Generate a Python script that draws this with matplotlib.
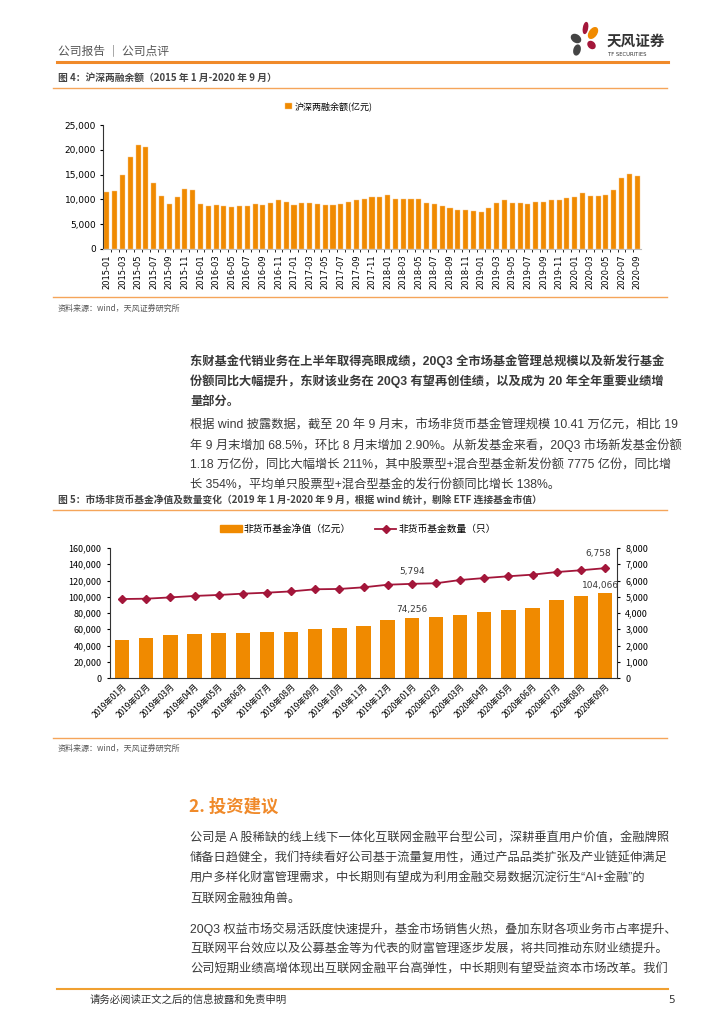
import numpy as np
import matplotlib
matplotlib.use("Agg")
import matplotlib.pyplot as plt
from matplotlib.patches import Ellipse, Rectangle
from matplotlib.lines import Line2D
from matplotlib.ticker import FuncFormatter, MultipleLocator

plt.rcParams['font.family'] = ['Noto Sans CJK SC', 'DejaVu Sans']
plt.rcParams['axes.unicode_minus'] = False
BODY = ['Liberation Sans', 'Noto Sans CJK SC']

# ---- data: chart 1, margin balance (亿元), 2015-01 .. 2020-09 ----
months_1 = [f"{y}-{m:02d}" for y in range(2015, 2021) for m in range(1, 13)][:69]
margin = [11500, 11700, 15000, 18500, 20900, 20600, 13400, 10600, 9100, 10500, 12100, 11900,
          9100, 8700, 8900, 8700, 8500, 8700, 8700, 9100, 8900, 9300, 9900, 9500,
          8900, 9300, 9300, 9100, 8900, 8900, 9100, 9500, 9900, 10100, 10500, 10500,
          10900, 10100, 10100, 10100, 10100, 9300, 9100, 8700, 8300, 7900, 7900, 7700,
          7500, 8300, 9300, 9900, 9300, 9300, 9100, 9500, 9500, 9900, 9900, 10300,
          10500, 11300, 10700, 10700, 10900, 11800, 14400, 15050, 14700]

# ---- data: chart 2, non-money funds ----
months_2 = [f"{y}年{m:02d}月" for y in (2019, 2020) for m in range(1, 13)][:21]
nav = [47200, 48800, 53300, 54600, 55000, 55000, 56600, 56600, 60700, 61900, 64400, 71800,
       74256, 75500, 77500, 81600, 84100, 86600, 96400, 101300, 104066]
fund_cnt = [4860, 4880, 4960, 5050, 5110, 5190, 5250, 5330, 5460, 5480, 5580, 5740,
            5794, 5830, 6030, 6150, 6260, 6360, 6520, 6630, 6758]

ORANGE = '#F08A00'
CRIMSON = '#A3163A'
TXT = '#3a3a3a'

W, H = 724, 1024
fig = plt.figure(figsize=(W / 100, H / 100), dpi=100)
fig.patch.set_facecolor('white')


def box(l, t, r, b):
    return [l / W, 1 - b / H, (r - l) / W, (b - t) / H]


comma = FuncFormatter(lambda v, p: f"{int(v):,}")

# ---- chart 1 ----
ax1 = fig.add_axes(box(103, 125, 641, 249))
x1 = np.arange(len(margin))
ax1.bar(x1, margin, width=0.65, color=ORANGE, edgecolor='#F8C890', linewidth=0.3,
        label='沪深两融余额(亿元)')
ax1.set_xlim(-0.5, len(margin) - 0.5)
ax1.set_ylim(0, 25000)
ax1.yaxis.set_major_locator(MultipleLocator(5000))
ax1.yaxis.set_major_formatter(comma)
ax1.set_xticks(x1[::2])
ax1.set_xticklabels(months_1[::2], rotation=90, fontsize=6, family='DejaVu Sans')
ax1.set_xticks(x1[:-1] + 0.5, minor=True)
ax1.tick_params(axis='x', which='major', length=0, pad=4)
ax1.tick_params(axis='x', which='minor', length=2, color='black')
ax1.tick_params(axis='y', labelsize=6.5, length=2, pad=3)
for lab in ax1.get_yticklabels():
    lab.set_family('DejaVu Sans')
for s in ('top', 'right'):
    ax1.spines[s].set_visible(False)
ax1.spines['bottom'].set_color('#bbbbbb')
ax1.spines['left'].set_color('#333333')
ax1.legend(loc='lower center', bbox_to_anchor=(0.42, 1.08), frameon=False, fontsize=6.5,
           handlelength=0.7, handleheight=0.7, handletextpad=0.3, borderaxespad=0)

# ---- chart 2 ----
ax2 = fig.add_axes(box(110, 548, 617, 678))
x2 = np.arange(len(nav))
ax2.bar(x2, nav, width=0.6, color=ORANGE)
ax2.set_xlim(-0.5, len(nav) - 0.5)
ax2.set_ylim(0, 160000)
ax2.yaxis.set_major_locator(MultipleLocator(20000))
ax2.yaxis.set_major_formatter(comma)
ax2.set_xticks(x2)
ax2.set_xticklabels(months_2, rotation=45, ha='right', rotation_mode='anchor', fontsize=6)
ax2.tick_params(axis='x', length=0, pad=3)
ax2.tick_params(axis='y', labelsize=6.5, length=2, pad=4)
for s in ('top', 'right'):
    ax2.spines[s].set_visible(False)
ax2.spines['left'].set_color('#333333')
ax2.spines['bottom'].set_color('#333333')

ax3 = ax2.twinx()
ax3.plot(x2, fund_cnt, color=CRIMSON, lw=1.3, marker='D', ms=4)
ax3.set_ylim(0, 8000)
ax3.yaxis.set_major_locator(MultipleLocator(1000))
ax3.yaxis.set_major_formatter(comma)
ax3.tick_params(axis='y', labelsize=6.5, length=2, pad=4)
for s in ('top', 'left', 'bottom'):
    ax3.spines[s].set_visible(False)
ax3.spines['right'].set_color('#333333')

ax2.annotate(f"{nav[12]:,}", (x2[12], nav[12]), xytext=(0, 4), textcoords='offset points',
             ha='center', fontsize=6.5, color=TXT, family='DejaVu Sans')
ax2.annotate(f"{nav[-1]:,}", (x2[-1], nav[-1]), xytext=(-3, 4), textcoords='offset points',
             ha='center', fontsize=6.5, color=TXT, family='DejaVu Sans')
ax3.annotate(f"{fund_cnt[12]:,}", (x2[12], fund_cnt[12]), xytext=(0, 7), textcoords='offset points',
             ha='center', fontsize=6.5, color=TXT, family='DejaVu Sans')
ax3.annotate(f"{fund_cnt[-1]:,}", (x2[-1], fund_cnt[-1]), xytext=(-5, 9), textcoords='offset points',
             ha='center', fontsize=6.5, color=TXT, family='DejaVu Sans')

h_bar = Rectangle((0, 0), 1, 1, color=ORANGE)
h_line = Line2D([], [], color=CRIMSON, lw=1.3, marker='D', ms=4)
fig.legend([h_bar, h_line], ['非货币基金净值（亿元）', '非货币基金数量（只）'],
           loc='center', bbox_to_anchor=(358 / W, 1 - 529 / H), ncol=2, frameon=False,
           fontsize=7, handlelength=2.2, handleheight=0.6, columnspacing=2.5, handletextpad=0.2)

# ---- page overlay (header, text, footer) ----
pg = fig.add_axes([0, 0, 1, 1], zorder=-1)
pg.set_xlim(0, W)
pg.set_ylim(H, 0)
pg.axis('off')

pg.text(58, 51, '公司报告 ｜ 公司点评', fontsize=8.5, color='#555555', va='center')
pg.plot([57, 668], [62, 62], color='#F08A2A', lw=2.2)

# logo
pg.add_patch(Ellipse((585.5, 28), 4, 11, angle=10, color='#A3163A'))
pg.add_patch(Ellipse((593, 33), 7, 12, angle=35, color='#F08A00'))
pg.add_patch(Ellipse((576, 38.5), 7, 10, angle=-55, color='#444444'))
pg.add_patch(Ellipse((591.5, 45), 6, 8, angle=-45, color='#A3163A'))
pg.add_patch(Ellipse((577, 50), 6, 10, angle=15, color='#444444'))
pg.text(607, 41, '天风证券', fontsize=10.5, fontweight='bold', color='#333333', va='center')
pg.text(608, 54, 'TF SECURITIES', fontsize=3.8, color='#333333', va='center', family='DejaVu Sans')

# figure 4 frame
pg.text(58, 78, '图 4：沪深两融余额（2015 年 1 月-2020 年 9 月）', fontsize=7, color='#444444',
        va='center', fontweight='bold')
pg.plot([53, 667], [88, 88], color='#F5A55A', lw=1)
pg.plot([53, 667], [297, 297], color='#F5A55A', lw=1)
pg.text(58, 308, '资料来源：wind，天风证券研究所', fontsize=5.8, color='#555555', va='center')

# paragraphs
p1 = ["东财基金代销业务在上半年取得亮眼成绩，20Q3 全市场基金管理总规模以及新发行基金",
      "份额同比大幅提升，东财该业务在 20Q3 有望再创佳绩，以及成为 20 年全年重要业绩增",
      "量部分。"]
for i, s in enumerate(p1):
    pg.text(190, 361 + i * 20.3, s, fontsize=8.8, color=TXT, fontweight='bold', va='center',
            family=BODY)

p2 = ["根据 wind 披露数据，截至 20 年 9 月末，市场非货币基金管理规模 10.41 万亿元，相比 19",
      "年 9 月末增加 68.5%，环比 8 月末增加 2.90%。从新发基金来看，20Q3 市场新发基金份额",
      "1.18 万亿份，同比大幅增长 211%，其中股票型+混合型基金新发份额 7775 亿份，同比增",
      "长 354%，平均单只股票型+混合型基金的发行份额同比增长 138%。"]
for i, s in enumerate(p2):
    pg.text(190, 425 + i * 20.3, s, fontsize=8.8, color=TXT, va='center', family=BODY)

# figure 5 frame
pg.text(58, 500, '图 5：市场非货币基金净值及数量变化（2019 年 1 月-2020 年 9 月，根据 wind 统计，剔除 ETF 连接基金市值）',
        fontsize=7, color='#444444', va='center', fontweight='bold')
pg.plot([53, 667], [510, 510], color='#F5A55A', lw=1)
pg.plot([53, 667], [738, 738], color='#F5A55A', lw=1)
pg.text(58, 748, '资料来源：wind，天风证券研究所', fontsize=5.8, color='#555555', va='center')

# section 2
pg.text(189, 807, '2. 投资建议', fontsize=12.5, color='#F08A2A', fontweight='bold', va='center')
p3 = ["公司是 A 股稀缺的线上线下一体化互联网金融平台型公司，深耕垂直用户价值，金融牌照",
      "储备日趋健全，我们持续看好公司基于流量复用性，通过产品品类扩张及产业链延伸满足",
      "用户多样化财富管理需求，中长期则有望成为利用金融交易数据沉淀衍生“AI+金融”的",
      "互联网金融独角兽。"]
for i, s in enumerate(p3):
    pg.text(190, 838 + i * 20.3, s, fontsize=8.8, color=TXT, va='center', family=BODY)
p4 = ["20Q3 权益市场交易活跃度快速提升，基金市场销售火热，叠加东财各项业务市占率提升、",
      "互联网平台效应以及公募基金等为代表的财富管理逐步发展，将共同推动东财业绩提升。",
      "公司短期业绩高增体现出互联网金融平台高弹性，中长期则有望受益资本市场改革。我们"]
for i, s in enumerate(p4):
    pg.text(190, 929 + i * 20.3, s, fontsize=8.8, color=TXT, va='center', family=BODY)

# footer
pg.plot([57, 668], [989, 989], color='#F0A030', lw=1.5)
pg.text(90, 1000, '请务必阅读正文之后的信息披露和免责申明', fontsize=7.5, color='#333333', va='center')
pg.text(668, 1000, '5', fontsize=7.5, color='#333333', va='center', family='DejaVu Sans')

fig.savefig('out.png', dpi=100, facecolor='white')
